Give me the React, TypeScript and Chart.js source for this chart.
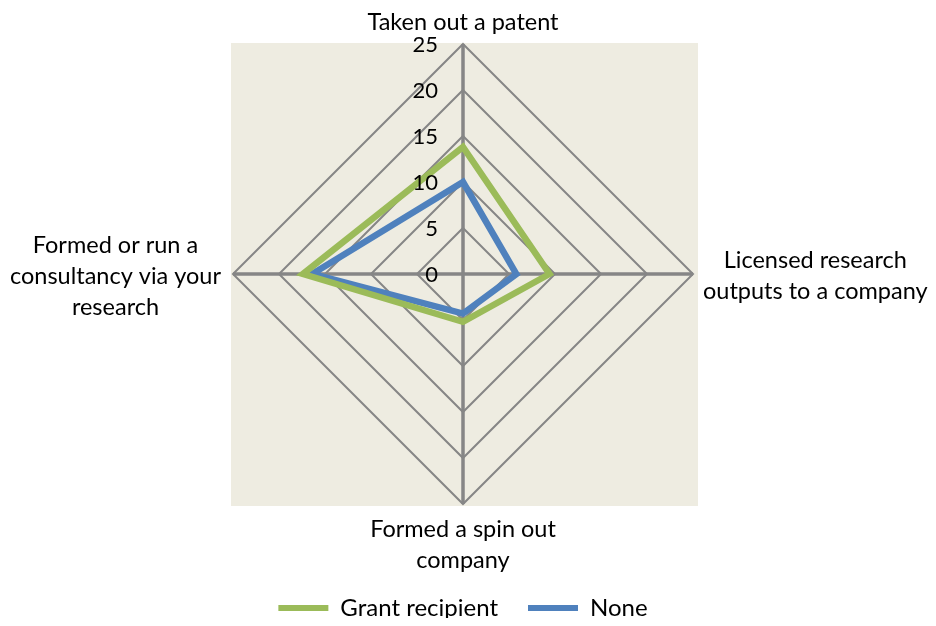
import React, { useEffect, useRef } from "react";
import { Chart, registerables } from "chart.js";

Chart.register(...registerables);

const categories: string[][] = [
  ["Taken out a patent"],
  ["Licensed research", "outputs to a company"],
  ["Formed a spin out", "company"],
  ["Formed or run a", "consultancy via your", "research"],
];
const grantRecipient = [13.8, 9.4, 5.2, 17.4];
const noneSeries = [10, 5.8, 4.3, 16.4];
const tickValues = [0, 5, 10, 15, 20, 25];

const FONT = "Lato, 'Open Sans', sans-serif";
const LABEL_SIZE = 23.5;
const LEGEND_SIZE = 24;
const TICK_SIZE = 22;
const LINE_H = 31;

const decorPlugin = {
  id: "decor",
  beforeDraw(chart: any) {
    const s = chart.scales.r;
    const ctx = chart.ctx;
    const R = s.drawingArea;
    ctx.save();
    ctx.fillStyle = "#EEECE1";
    ctx.fillRect(s.xCenter - R - 2, s.yCenter - R - 1, 2 * R + 7, 2 * R + 3);
    ctx.restore();
  },
  afterDraw(chart: any) {
    const s = chart.scales.r;
    const ctx = chart.ctx;
    const R = s.drawingArea;
    ctx.save();
    ctx.fillStyle = "#000000";
    ctx.textBaseline = "middle";
    // tick labels
    ctx.font = `${TICK_SIZE}px ${FONT}`;
    ctx.textAlign = "right";
    tickValues.forEach((v) => {
      const d = s.getDistanceFromCenterForValue(v);
      ctx.fillText(String(v), s.xCenter - 25, s.yCenter - d + 1);
    });
    // category labels
    ctx.font = `${LABEL_SIZE}px ${FONT}`;
    ctx.textAlign = "center";
    categories.forEach((lines, i) => {
      const p = s.getPointPosition(i, R);
      const dx = p.x - s.xCenter;
      const dy = p.y - s.yCenter;
      const widths = lines.map((l) => ctx.measureText(l).width);
      const maxW = Math.max(...widths);
      const n = lines.length;
      if (Math.abs(dy) > Math.abs(dx)) {
        if (dy < 0) {
          lines.forEach((l, k) => {
            ctx.fillText(l, p.x, p.y - 22 - (n - 1 - k) * LINE_H);
          });
        } else {
          lines.forEach((l, k) => {
            ctx.fillText(l, p.x, p.y + 25 + k * LINE_H);
          });
        }
      } else {
        const cx = dx > 0 ? p.x + 10 + maxW / 2 : p.x - 12 - maxW / 2;
        const y0 = p.y + 2 - ((n - 1) * LINE_H) / 2;
        lines.forEach((l, k) => {
          ctx.fillText(l, cx, y0 + k * LINE_H);
        });
      }
    });
    ctx.restore();
  },
};

export default function App() {
  const ref = useRef<HTMLCanvasElement | null>(null);
  useEffect(() => {
    if (!ref.current) return;
    const chart = new Chart(ref.current, {
      type: "radar",
      data: {
        labels: categories,
        datasets: [
          {
            label: "Grant recipient",
            data: grantRecipient,
            borderColor: "#9BBB59",
            backgroundColor: "#9BBB59",
            borderWidth: 6.5,
            fill: false,
            pointRadius: 0,
            pointHoverRadius: 0,
            tension: 0,
          },
          {
            label: "None",
            data: noneSeries,
            borderColor: "#4F81BD",
            backgroundColor: "#4F81BD",
            borderWidth: 6.5,
            fill: false,
            pointRadius: 0,
            pointHoverRadius: 0,
            tension: 0,
          },
        ],
      },
      options: {
        responsive: false,
        animation: false,
        devicePixelRatio: 1,
        layout: { padding: { top: 36, bottom: 8, left: 0, right: 10 } },
        scales: {
          r: {
            min: 0,
            max: 25,
            ticks: { stepSize: 5, display: false },
            pointLabels: { display: false },
            grid: { color: "#868686", lineWidth: 2, circular: false },
            angleLines: { color: "#868686", lineWidth: 3.5 },
          },
        },
        plugins: {
          tooltip: { enabled: false },
          legend: {
            position: "bottom",
            title: {
              display: true,
              text: "",
              font: { size: 10, lineHeight: 1 },
              padding: { top: 52, bottom: 0 },
            },
            labels: {
              boxWidth: 50,
              boxHeight: 6,
              padding: 30,
              color: "#000000",
              font: { family: FONT, size: LEGEND_SIZE },
              generateLabels: (c: any) =>
                Chart.defaults.plugins.legend.labels
                  .generateLabels(c)
                  .map((it: any) => ({ ...it, lineWidth: 0 })),
            },
          },
        },
      },
      plugins: [decorPlugin],
    });
    return () => chart.destroy();
  }, []);
  return (
    <div style={{ marginLeft: -8, width: 936, height: 610, overflow: "hidden" }}>
      <canvas ref={ref} width={936} height={630} style={{ display: "block" }} />
    </div>
  );
}
